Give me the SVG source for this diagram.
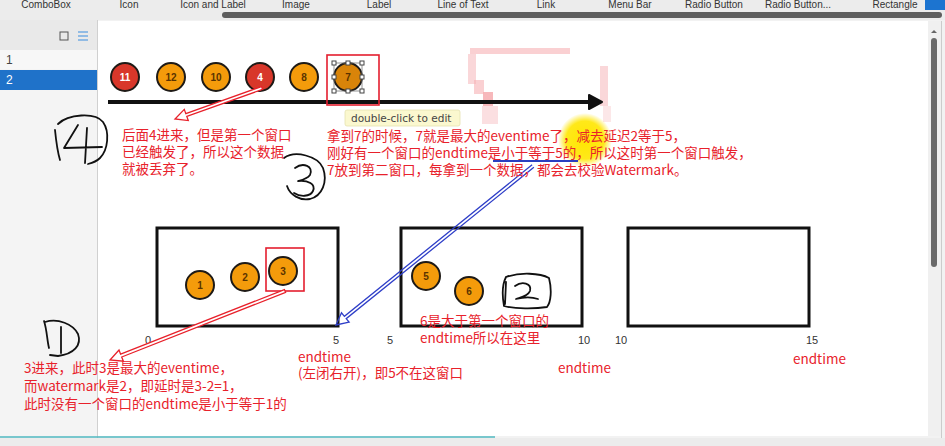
<svg xmlns="http://www.w3.org/2000/svg" width="945" height="446" viewBox="0 0 945 446">
<defs>
<radialGradient id="hl" cx="0.5" cy="0.5" r="0.5">
<stop offset="0" stop-color="#ffe600" stop-opacity="1"/>
<stop offset="0.7" stop-color="#ffe600" stop-opacity="0.9"/>
<stop offset="1" stop-color="#ffe600" stop-opacity="0"/>
</radialGradient>
</defs>
<style>
.tb{font-family:"Liberation Sans","DejaVu Sans",sans-serif;font-size:10px;fill:#333;text-anchor:middle}
.red{fill:#e8212b;font-family:"Noto Sans CJK SC","Noto Sans",sans-serif;font-size:13.5px}
.ax{font-family:"Liberation Sans","DejaVu Sans",sans-serif;font-size:11px;fill:#333}
.ball{stroke:#1e1a16;stroke-width:2}
.or{fill:#f49b0b}
.rd{fill:#d8372a}
.bn{font-family:"Liberation Sans",sans-serif;font-size:10px;text-anchor:middle;font-weight:bold}
.bno{fill:#5a3300}
.bnr{fill:#fff}
.win{fill:#fff;stroke:#111;stroke-width:3}
.hand{fill:none;stroke:#111;stroke-width:1.8;stroke-linecap:round;stroke-linejoin:round}
.sel{fill:none;stroke:#e41f2f;stroke-width:1.6}
.handle{fill:#fff;stroke:#444;stroke-width:1}
.arr-r{fill:#fff;stroke:#e8212b;stroke-width:1.3;stroke-linejoin:miter}
.arr-b{fill:none;stroke:#2f3fc8;stroke-width:1.3}
.pix{fill:#e8212b}
</style>
<!-- app chrome -->
<rect x="0" y="0" width="945" height="446" fill="#f2f2f2"/>
<rect x="0" y="0" width="945" height="20" fill="#ececec"/>
<g id="toolbar">
<text class="tb" x="46" y="8">ComboBox</text>
<text class="tb" x="129" y="8">Icon</text>
<text class="tb" x="213" y="8">Icon and Label</text>
<text class="tb" x="296" y="8">Image</text>
<text class="tb" x="379" y="8">Label</text>
<text class="tb" x="463" y="8">Line of Text</text>
<text class="tb" x="546" y="8">Link</text>
<text class="tb" x="630" y="8">Menu Bar</text>
<text class="tb" x="714" y="8">Radio Button</text>
<text class="tb" x="798" y="8">Radio Button...</text>
<text class="tb" x="895" y="8">Rectangle</text>
<rect x="925" y="0" width="20" height="10" fill="#1c74d0"/>
<rect x="222" y="12" width="720" height="6" rx="3" fill="#5e5e5e"/>
</g>
<g id="sidebar">
<rect x="0" y="20" width="97" height="417" fill="#f4f4f4"/>
<rect x="0" y="20" width="97" height="30" fill="#e9e9e9"/>
<rect x="60" y="32" width="8" height="8" fill="none" stroke="#555" stroke-width="1"/>
<path d="M78 32h10M78 36h10M78 40h10" stroke="#3a8ee0" stroke-width="1.2"/>
<rect x="0" y="50" width="97" height="19" fill="#f7f7f7"/>
<text x="6" y="64" font-family="Liberation Sans,sans-serif" font-size="12" fill="#444">1</text>
<rect x="0" y="70" width="97" height="20" fill="#1f72c9"/>
<text x="6" y="84" font-family="Liberation Sans,sans-serif" font-size="12" fill="#fff">2</text>
<line x1="97.5" y1="20" x2="97.5" y2="446" stroke="#d0d0d0"/>
</g>
<rect x="98" y="21" width="830" height="415" fill="#fff"/>
<g id="vscroll">
<rect x="928" y="21" width="13" height="415" fill="#f0f0f0"/>
<path d="M931 33l3-3 3 3z" fill="#666"/>
<rect x="931" y="38" width="6" height="229" rx="3" fill="#6a6a6a"/>
<line x1="941.5" y1="21" x2="941.5" y2="446" stroke="#ccc"/>
</g>
<line x1="0" y1="437" x2="495" y2="437" stroke="#4fb8c0" stroke-width="1.5"/>
<rect x="0" y="438" width="945" height="8" fill="#ececec"/>

<!-- mosaic artifact -->
<g id="mosaic" opacity="0.35">
<rect class="pix" x="470" y="48" width="100" height="6" opacity="0.6"/>
<rect class="pix" x="468" y="54" width="8" height="30" opacity="0.5"/>
<rect class="pix" x="474" y="80" width="10" height="14" opacity="0.6"/>
<rect class="pix" x="483" y="92" width="10" height="14" opacity="0.9"/>
<rect class="pix" x="482" y="106" width="16" height="18" opacity="0.4"/>
<rect class="pix" x="600" y="66" width="8" height="40" opacity="0.5"/>
<rect class="pix" x="603" y="106" width="8" height="16" opacity="0.3"/>
</g>
<circle id="cursor-highlight" cx="585" cy="140" r="27" fill="url(#hl)"/>

<!-- timeline -->
<g id="timeline">
<line x1="108" y1="102" x2="592" y2="102" stroke="#111" stroke-width="4"/>
<path d="M589 95 L602 102 L589 109 Z" fill="#111" stroke="#111" stroke-width="2" stroke-linejoin="round"/>
</g>

<g id="ball-11"><circle class="ball rd" cx="125" cy="77" r="14"/><text class="bn bnr" x="125" y="81">11</text></g>
<g id="ball-12"><circle class="ball or" cx="171" cy="77" r="14"/><text class="bn bno" x="171" y="81">12</text></g>
<g id="ball-10"><circle class="ball or" cx="216" cy="77" r="14"/><text class="bn bno" x="216" y="81">10</text></g>
<g id="ball-4"><circle class="ball rd" cx="260" cy="77" r="14"/><text class="bn bnr" x="260" y="81">4</text></g>
<g id="ball-8"><circle class="ball or" cx="304" cy="77" r="14"/><text class="bn bno" x="304" y="81">8</text></g>
<g id="ball-7">
<rect class="sel" x="327" y="55" width="52" height="50"/>
<circle class="ball" cx="348" cy="77" r="14" fill="#d98409"/><text class="bn bno" x="348" y="81">7</text>
<rect x="334" y="63" width="28" height="28" fill="none" stroke="#777" stroke-width="0.8"/>
<rect class="handle" x="332" y="61" width="4" height="4"/><rect class="handle" x="346" y="61" width="4" height="4"/><rect class="handle" x="360" y="61" width="4" height="4"/>
<rect class="handle" x="332" y="75" width="4" height="4"/><rect class="handle" x="360" y="75" width="4" height="4"/>
<rect class="handle" x="332" y="89" width="4" height="4"/><rect class="handle" x="346" y="89" width="4" height="4"/><rect class="handle" x="360" y="89" width="4" height="4"/>
</g>
<g id="tooltip">
<rect x="345" y="110" width="115" height="16" rx="2" fill="#fbf8cf" stroke="#e6e2b0" stroke-width="0.8"/>
<text x="351" y="122" font-family="DejaVu Sans,sans-serif" font-size="10.5" fill="#444">double-click to edit</text>
</g>

<!-- windows -->
<g id="window-1">
<rect class="win" x="157" y="228" width="181" height="98"/>
<circle class="ball or" cx="200" cy="285" r="14"/><text class="bn bno" x="200" y="289">1</text>
<circle class="ball or" cx="245" cy="277" r="14"/><text class="bn bno" x="245" y="281">2</text>
<rect class="sel" x="266" y="248" width="38" height="43"/>
<circle class="ball or" cx="283" cy="271" r="14"/><text class="bn bno" x="283" y="275">3</text>
</g>
<g id="window-2">
<rect class="win" x="401" y="228" width="181" height="98"/>
<circle class="ball or" cx="426" cy="276" r="14"/><text class="bn bno" x="426" y="280">5</text>
<circle class="ball or" cx="469" cy="291" r="14"/><text class="bn bno" x="469" y="295">6</text>
<path class="hand" d="M506 277 C520 272 540 273 549 278 C552 290 551 302 547 307 C535 309 515 309 504 306 C502 295 502 285 506 277 M506 282 L505 304"/>
<path class="hand" d="M515 286 C522 281 532 283 530 291 C528 296 522 297 516 299 C524 297 532 297 538 299"/>
</g>
<g id="window-3">
<rect class="win" x="628" y="228" width="181" height="98"/>
</g>

<g id="axis">
<text class="ax" x="145" y="344">0</text>
<text class="ax" x="333" y="344">5</text>
<text class="ax" x="387" y="344">5</text>
<text class="ax" x="578" y="344">10</text>
<text class="ax" x="615" y="344">10</text>
<text class="ax" x="806" y="344">15</text>
</g>

<!-- handwritten marks -->
<g id="hand-4">
<path class="hand" d="M58 124 C68 114 95 112 103 122 C110 132 108 150 100 158 C96 162 92 163 88 164"/>
<path class="hand" d="M55 130 C56 140 57 150 60 160"/>
<path class="hand" d="M78 125 L64 148 L102 147 M87 128 L85 163"/>
</g>
<g id="hand-3">
<path class="hand" d="M284 158 C295 150 318 156 323 168 C328 182 322 196 310 199 C300 201 290 195 287 186"/>
<path class="hand" d="M295 168 C303 162 314 166 310 175 C307 179 302 180 298 181 C308 180 316 184 313 191 C310 197 300 197 294 193"/>
</g>
<g id="hand-1">
<path class="hand" d="M44 321 C47 330 47 340 49 348 M45 322 C58 318 73 324 78 334 C82 345 74 354 58 356 L50 355"/>
<path class="hand" d="M61 327 L61 353"/>
</g>

<!-- connectors -->
<g id="connectors">
<path class="arr-r" d="M261.5 86.6 L185.8 113.6 L184.3 109.4 L175 119 L188.3 120.6 L186.8 116.4 L262.5 89.4 Z"/>
<path class="arr-r" d="M284.4 289.6 L120.6 354.2 L119 350 L110 360 L123.4 361.2 L121.7 357 L285.6 292.4 Z"/>
<line x1="493" y1="161" x2="578" y2="161" stroke="#2a3fc0" stroke-width="2"/>
<path class="arr-b" d="M532.1 164.8 L344.4 316.3 L341.5 312.8 L336 325 L349.1 322.2 L346.2 318.7 L533.9 167.2"/>
</g>

<!-- notes -->
<g id="note-4">
<text class="red" x="122" y="140">后面4进来，但是第一个窗口</text>
<text class="red" x="122" y="157">已经触发了，所以这个数据</text>
<text class="red" x="122" y="174">就被丢弃了。</text>
</g>
<g id="note-7">
<text class="red" x="327" y="141">拿到7的时候，7就是最大的eventime了，减去延迟2等于5，</text>
<text class="red" x="327" y="158">刚好有一个窗口的endtime是小于等于5的，所以这时第一个窗口触发，</text>
<text class="red" x="327" y="175">7放到第二窗口，每拿到一个数据，都会去校验Watermark。</text>
</g>
<g id="note-6">
<text class="red" x="420" y="326">6是大于第一个窗口的</text>
<text class="red" x="420" y="343">endtime所以在这里</text>
</g>
<g id="note-endtime-5">
<text class="red" x="298" y="362">endtime</text>
<text class="red" x="298" y="378">(左闭右开)，即5不在这窗口</text>
</g>
<text id="note-endtime-10" class="red" x="558" y="373">endtime</text>
<text id="note-endtime-15" class="red" x="793" y="364">endtime</text>
<g id="note-3">
<text class="red" x="24" y="373">3进来，此时3是最大的eventime，</text>
<text class="red" x="24" y="391">而watermark是2，即延时是3-2=1，</text>
<text class="red" x="24" y="409">此时没有一个窗口的endtime是小于等于1的</text>
</g>
</svg>
